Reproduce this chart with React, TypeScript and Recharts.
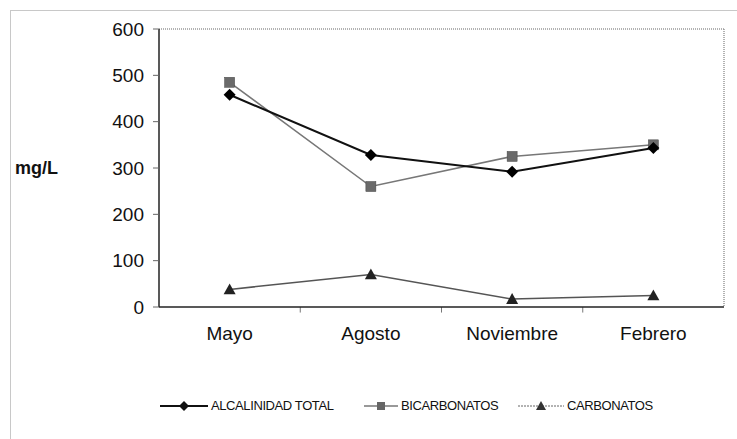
import React from 'react';
import { LineChart, Line, XAxis, YAxis, ReferenceLine } from 'recharts';

const months = ['Mayo', 'Agosto', 'Noviembre', 'Febrero'];
const alcalinidadTotal = [458, 328, 292, 343];
const bicarbonatos = [485, 260, 325, 350];
const carbonatos = [38, 70, 17, 25];
const yTicks = [0, 100, 200, 300, 400, 500, 600];
const bandTicks = [0, 1, 2, 3, 4];

const data = months.map((m, i) => ({
  month: m,
  pos: i + 0.5,
  alcalinidad: alcalinidadTotal[i],
  bicarbonatos: bicarbonatos[i],
  carbonatos: carbonatos[i],
}));

const FONT = '"Liberation Sans", Arial, sans-serif';

const Diamond = (props: any) => {
  const { cx, cy, fill } = props;
  if (cx == null || cy == null) return null;
  const r = 6;
  return <path d={`M${cx},${cy - r}L${cx + r},${cy}L${cx},${cy + r}L${cx - r},${cy}Z`} fill={fill} />;
};

const Square = (props: any) => {
  const { cx, cy, fill } = props;
  if (cx == null || cy == null) return null;
  const s = 5;
  return <rect x={cx - s} y={cy - s} width={s * 2} height={s * 2} fill={fill} stroke="#444" strokeWidth={0.5} />;
};

const Triangle = (props: any) => {
  const { cx, cy, fill } = props;
  if (cx == null || cy == null) return null;
  const r = 6;
  return <path d={`M${cx},${cy - r}L${cx + r},${cy + r * 0.8}L${cx - r},${cy + r * 0.8}Z`} fill={fill} />;
};

const legendLabels = ['ALCALINIDAD TOTAL', 'BICARBONATOS', 'CARBONATOS'];
const legendMarkers = ['diamond', 'square', 'triangle'];

// legend layout: where each entry starts and how long its line sample is
const legendLayout = [
  { left: 160, line: 48, color: '#111', width: 2, dash: undefined },
  { left: 364, line: 34, color: '#777', width: 1.5, dash: undefined },
  { left: 518, line: 46, color: '#666', width: 1, dash: '2 1' },
];

const LegendIcon = ({ marker, line, color, width, dash }: any) => {
  const c = line / 2;
  return (
    <svg width={line} height={12} style={{ marginRight: 3 }}>
      <line x1={0} y1={6} x2={line} y2={6} stroke={color} strokeWidth={width} strokeDasharray={dash} />
      {marker === 'diamond' && <path d={`M${c},1L${c + 5},6L${c},11L${c - 5},6Z`} fill="#111" />}
      {marker === 'square' && <rect x={c - 4} y={2} width={8} height={8} fill="#666" />}
      {marker === 'triangle' && <path d={`M${c},1L${c + 5},10L${c - 5},10Z`} fill="#333" />}
    </svg>
  );
};

export default function App() {
  return (
    <div style={{ position: 'absolute', left: 0, top: 0, width: 737, height: 439, background: '#fff', fontFamily: FONT, overflow: 'hidden' }}>
      <div
        style={{
          position: 'absolute',
          left: 10,
          top: 10,
          width: 740,
          height: 440,
          borderTop: '1.5px solid #c8c8c8',
          borderLeft: '1.5px solid #c8c8c8',
        }}
      />
      <LineChart
        width={737}
        height={439}
        data={data}
        margin={{ top: 29, right: 13, bottom: 92, left: 0 }}
        style={{ position: 'absolute', left: 0, top: 0 }}
      >
        <XAxis
          xAxisId="main"
          dataKey="month"
          scale="band"
          height={40}
          tickLine={false}
          axisLine={{ stroke: '#222', strokeWidth: 1.5 }}
          tickMargin={14}
          tick={{ fill: '#111', fontSize: 19, fontFamily: FONT }}
        />
        <XAxis
          xAxisId="ticks"
          dataKey="pos"
          type="number"
          orientation="top"
          mirror
          domain={[0, 4]}
          ticks={bandTicks}
          height={0}
          tickFormatter={() => ''}
          tickLine={false}
          axisLine={false}
          allowDataOverflow
        />
        <YAxis
          yAxisId="main"
          domain={[0, 600]}
          ticks={yTicks}
          width={159}
          tickSize={6}
          tickMargin={9}
          tickLine={{ stroke: '#666' }}
          axisLine={{ stroke: '#222', strokeWidth: 1.5 }}
          tick={{ fill: '#111', fontSize: 19, fontFamily: FONT }}
          label={{
            value: 'mg/L',
            position: 'insideLeft',
            offset: 15,
            style: { fill: '#111', fontSize: 18, fontWeight: 'bold', fontFamily: FONT, textAnchor: 'start' },
          }}
        />
        <ReferenceLine xAxisId="ticks" yAxisId="main" y={600} stroke="#999" strokeWidth={1.5} strokeDasharray="1 1" />
        <ReferenceLine xAxisId="ticks" yAxisId="main" x={4} stroke="#999" strokeWidth={1.5} strokeDasharray="1 1" />
        {bandTicks.slice(1, 4).map((b) => (
          <ReferenceLine
            key={b}
            xAxisId="ticks"
            yAxisId="main"
            segment={[{ x: b, y: 0 }, { x: b, y: -12 }]}
            stroke="#777"
            ifOverflow="visible"
          />
        ))}
        <Line
          xAxisId="main"
          yAxisId="main"
          dataKey="bicarbonatos"
          stroke="#777"
          strokeWidth={1.5}
          dot={<Square fill="#6a6a6a" />}
          isAnimationActive={false}
        />
        <Line
          xAxisId="main"
          yAxisId="main"
          dataKey="alcalinidad"
          stroke="#111"
          strokeWidth={2}
          dot={<Diamond fill="#000" />}
          isAnimationActive={false}
        />
        <Line
          xAxisId="main"
          yAxisId="main"
          dataKey="carbonatos"
          stroke="#555"
          strokeWidth={1.5}
          dot={<Triangle fill="#222" />}
          isAnimationActive={false}
        />
      </LineChart>
      {legendLabels.map((label, i) => (
        <div
          key={label}
          style={{
            position: 'absolute',
            left: legendLayout[i].left,
            top: 398,
            display: 'flex',
            alignItems: 'center',
            fontSize: 13,
            letterSpacing: -0.4,
            color: '#111',
            whiteSpace: 'nowrap',
          }}
        >
          <LegendIcon marker={legendMarkers[i]} {...legendLayout[i]} />
          <span>{label}</span>
        </div>
      ))}
    </div>
  );
}
